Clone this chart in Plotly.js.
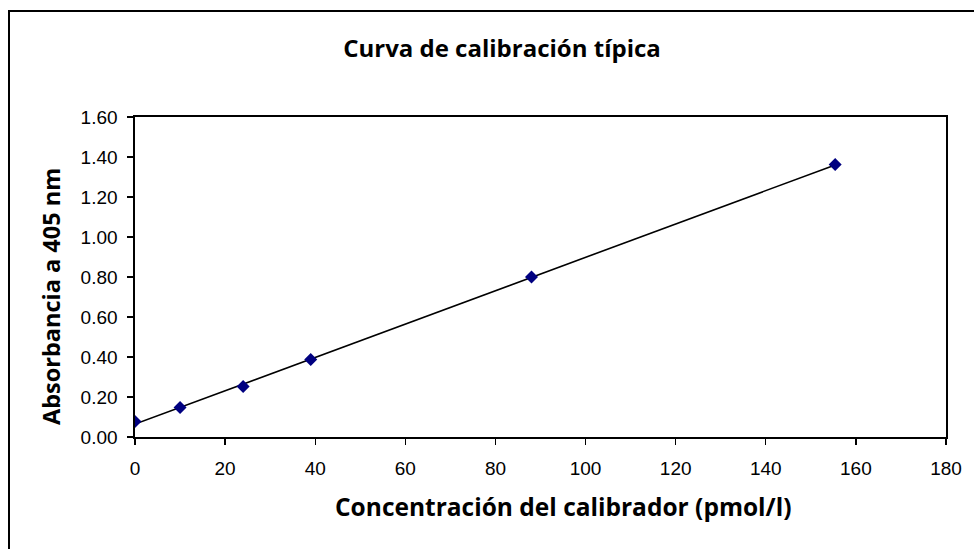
<!DOCTYPE html>
<html>
<head>
<meta charset="utf-8">
<script src="https://cdn.plot.ly/plotly-3.0.1.min.js"></script>
<style>
  html, body { margin: 0; padding: 0; background: #fff; overflow: hidden; }
  #chart { position: absolute; left: 0; top: 0; width: 974px; height: 549px; }
  #frame { position: absolute; left: 8px; top: 10px; width: 1000px; height: 600px;
           border: 2px solid #000; pointer-events: none; }
</style>
</head>
<body>
<div id="chart"></div>
<div id="frame"></div>
<script>
// Data
const concentration = [0, 10, 24, 39, 88, 155.4];          // pmol/l
const absorbance    = [0.077, 0.147, 0.252, 0.387, 0.80, 1.362]; // A405
const xTickValues = [0, 20, 40, 60, 80, 100, 120, 140, 160, 180];
const yTickValues = [0.0, 0.2, 0.4, 0.6, 0.8, 1.0, 1.2, 1.4, 1.6];
const chartTitle = 'Curva de calibración típica';
const xTitle = 'Concentración del calibrador (pmol/l)';
const yTitle = 'Absorbancia a 405 nm';

// Linear trendline (least squares) computed from the data
const n = concentration.length;
const mx = concentration.reduce((a, b) => a + b, 0) / n;
const my = absorbance.reduce((a, b) => a + b, 0) / n;
let sxy = 0, sxx = 0;
for (let i = 0; i < n; i++) {
  sxy += (concentration[i] - mx) * (absorbance[i] - my);
  sxx += (concentration[i] - mx) ** 2;
}
const slope = sxy / sxx;
const intercept = my - slope * mx;
const trendX = [Math.min(...concentration), Math.max(...concentration)];
const trendY = trendX.map(x => intercept + slope * x);

const boldFamily = 'Open Sans, Lato, sans-serif';
const tickFont = { family: 'Liberation Sans, Arial, sans-serif', size: 19, color: '#000' };

const traces = [
  {
    x: trendX, y: trendY, type: 'scatter', mode: 'lines',
    line: { color: '#000', width: 1.6 }, hoverinfo: 'skip', showlegend: false
  },
  {
    x: concentration, y: absorbance, type: 'scatter', mode: 'markers',
    marker: { symbol: 'diamond', size: 10, color: '#000080' }, showlegend: false
  }
];

const layout = {
  width: 974, height: 549,
  margin: { l: 135, r: 28, t: 117, b: 112 },
  paper_bgcolor: '#fff', plot_bgcolor: '#fff',
  showlegend: false,
  font: { family: 'Liberation Sans, Arial, sans-serif', color: '#000' },
  title: { text: '<b>' + chartTitle + '</b>', font: { family: boldFamily, size: 24, color: '#000' },
           x: 502 / 974, xanchor: 'center', y: 1 - 49 / 549, yanchor: 'middle' },
  xaxis: {
    range: [0, 180], tickvals: xTickValues, ticktext: xTickValues.map(String),
    showgrid: false, zeroline: false, showline: true, linecolor: '#000', linewidth: 1.6,
    mirror: true, ticks: 'outside', ticklen: 6, tickwidth: 1.3, tickcolor: '#000',
    tickfont: tickFont, ticklabelstandoff: 8, fixedrange: true
  },
  yaxis: {
    range: [0, 1.6], tickvals: yTickValues, ticktext: yTickValues.map(v => v.toFixed(2)),
    showgrid: false, zeroline: false, showline: true, linecolor: '#000', linewidth: 1.6,
    mirror: true, ticks: 'outside', ticklen: 6, tickwidth: 1.3, tickcolor: '#000',
    tickfont: tickFont, ticklabelstandoff: 6, fixedrange: true
  },
  annotations: [
    { text: '<b>' + xTitle + '</b>', font: { family: boldFamily, size: 24.5, color: '#000' },
      showarrow: false, xref: 'paper', yref: 'paper',
      x: (563 - 135) / 811, y: -(506 - 437) / 320, xanchor: 'center', yanchor: 'middle' },
    { text: '<b>' + yTitle + '</b>', font: { family: boldFamily, size: 23.5, color: '#000' },
      showarrow: false, textangle: -90, xref: 'paper', yref: 'paper',
      x: -(135 - 51) / 811, y: 1 - (297 - 117) / 320, xanchor: 'center', yanchor: 'middle' }
  ]
};

Plotly.newPlot('chart', traces, layout, { displayModeBar: false, staticPlot: true });
</script>
</body>
</html>
